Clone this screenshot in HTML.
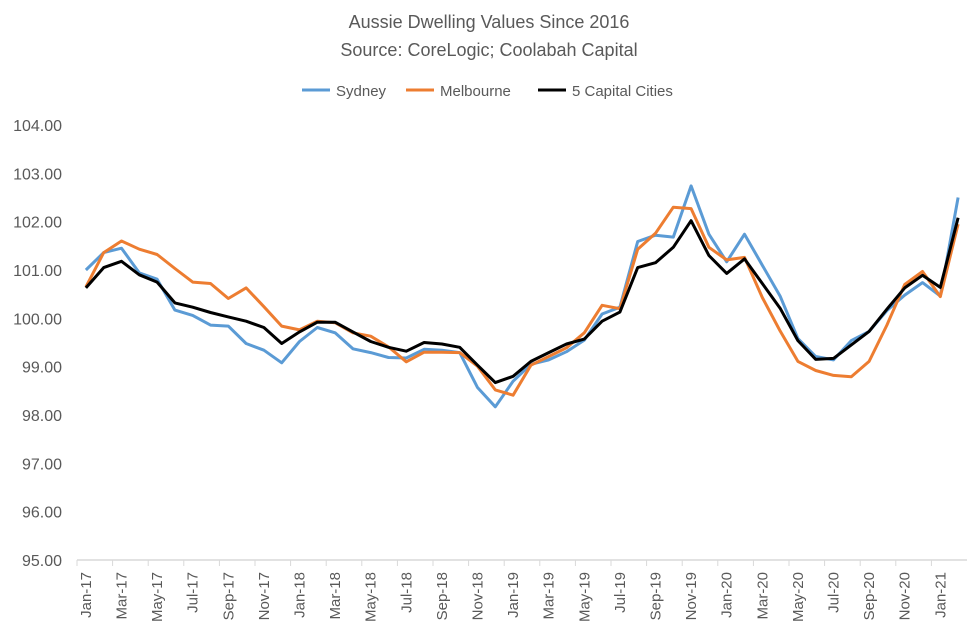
<!DOCTYPE html>
<html><head><meta charset="utf-8"><style>
body{margin:0;background:#fff;font-family:"Liberation Sans",sans-serif;}
svg text{font-family:"Liberation Sans",sans-serif;}
</style></head><body>
<svg id="chart" width="978" height="639" xmlns="http://www.w3.org/2000/svg">
<text x="489" y="28" text-anchor="middle" font-size="18" fill="#595959">Aussie Dwelling Values Since 2016</text>
<text x="489" y="56" text-anchor="middle" font-size="18" fill="#595959">Source: CoreLogic; Coolabah Capital</text>
<g>
<line x1="302" y1="90" x2="330" y2="90" stroke="#5b9bd5" stroke-width="3"/>
<text x="336" y="96" font-size="15" fill="#595959">Sydney</text>
<line x1="406" y1="90" x2="434" y2="90" stroke="#ed7d31" stroke-width="3"/>
<text x="440" y="96" font-size="15" fill="#595959">Melbourne</text>
<line x1="538" y1="90" x2="566" y2="90" stroke="#000" stroke-width="3"/>
<text x="572" y="96" font-size="15" fill="#595959">5 Capital Cities</text>
</g>
<g id="axes"></g>
<g id="series"></g>
</svg>
<script>
const months=["Jan","Feb","Mar","Apr","May","Jun","Jul","Aug","Sep","Oct","Nov","Dec"];
const categories=[];
for(let y=17;y<=21;y++)for(let m=0;m<12;m++){if(categories.length<50)categories.push(months[m]+"-"+y);}
const yTicks=[95,96,97,98,99,100,101,102,103,104];
const sydney=[101.0,101.36,101.45,100.94,100.81,100.17,100.06,99.86,99.84,99.48,99.34,99.08,99.52,99.81,99.70,99.37,99.29,99.19,99.18,99.36,99.34,99.29,98.57,98.17,98.7,99.05,99.14,99.31,99.55,100.09,100.23,101.59,101.72,101.68,102.74,101.74,101.17,101.74,101.10,100.46,99.58,99.21,99.14,99.54,99.73,100.16,100.48,100.74,100.46,102.50];
const melbourne=[100.65,101.36,101.60,101.43,101.32,101.03,100.75,100.72,100.41,100.63,100.24,99.84,99.76,99.94,99.91,99.70,99.63,99.41,99.10,99.30,99.30,99.29,99.01,98.52,98.41,99.03,99.21,99.39,99.70,100.27,100.20,101.43,101.76,102.30,102.27,101.47,101.21,101.26,100.43,99.74,99.11,98.92,98.82,98.79,99.11,99.86,100.70,100.97,100.45,101.95];
const capitals=[100.63,101.05,101.18,100.90,100.75,100.32,100.23,100.12,100.03,99.94,99.81,99.48,99.72,99.92,99.92,99.72,99.52,99.40,99.32,99.50,99.47,99.40,99.03,98.67,98.80,99.11,99.29,99.47,99.57,99.94,100.13,101.05,101.15,101.47,102.02,101.30,100.93,101.23,100.72,100.21,99.54,99.15,99.17,99.45,99.73,100.19,100.63,100.89,100.64,102.08];
const NS="http://www.w3.org/2000/svg";
const X0=77,CW=17.8,Y0=560,YT=125,VMIN=95,VMAX=104;
function xScale(i){return X0+CW/2+CW*i;}
function yScale(v){return Y0-(v-VMIN)/(VMAX-VMIN)*(Y0-YT);}
function mk(tag,attrs,parent){const e=document.createElementNS(NS,tag);for(const k in attrs)e.setAttribute(k,attrs[k]);parent.appendChild(e);return e;}
const axes=document.getElementById("axes");
yTicks.forEach(v=>{
  const t=mk("text",{x:62,y:yScale(v)+6,"text-anchor":"end","font-size":"16",fill:"#595959"},axes);
  
  
  t.textContent=v.toFixed(2);
});
const ax=mk("line",{x1:X0,y1:Y0,x2:X0+CW*categories.length,y2:Y0,stroke:"#d9d9d9","stroke-width":1.5},axes);


categories.forEach((c,i)=>{
  if(i%2===0){
    const tk=mk("line",{x1:X0+CW*i,y1:Y0,x2:X0+CW*i,y2:Y0+6,stroke:"#d9d9d9","stroke-width":1},axes);
    
    
    const x=xScale(i)+5;
    const t=mk("text",{x:x,y:Y0+12,"text-anchor":"end","font-size":"15",fill:"#595959",transform:`rotate(-90 ${x} ${Y0+12})`},axes);
    
    
    t.textContent=c;
  }
});
const ser=document.getElementById("series");
[[sydney,"#5b9bd5","sydney-line"],[melbourne,"#ed7d31","melbourne-line"],[capitals,"#000000","capital-cities-line"]].forEach(([d,col,name])=>{
  const p=mk("polyline",{points:d.map((v,i)=>xScale(i).toFixed(1)+","+yScale(v).toFixed(1)).join(" "),fill:"none",stroke:col,"stroke-width":3,"stroke-linejoin":"round"},ser);
  
  
});
</script>
</body></html>
